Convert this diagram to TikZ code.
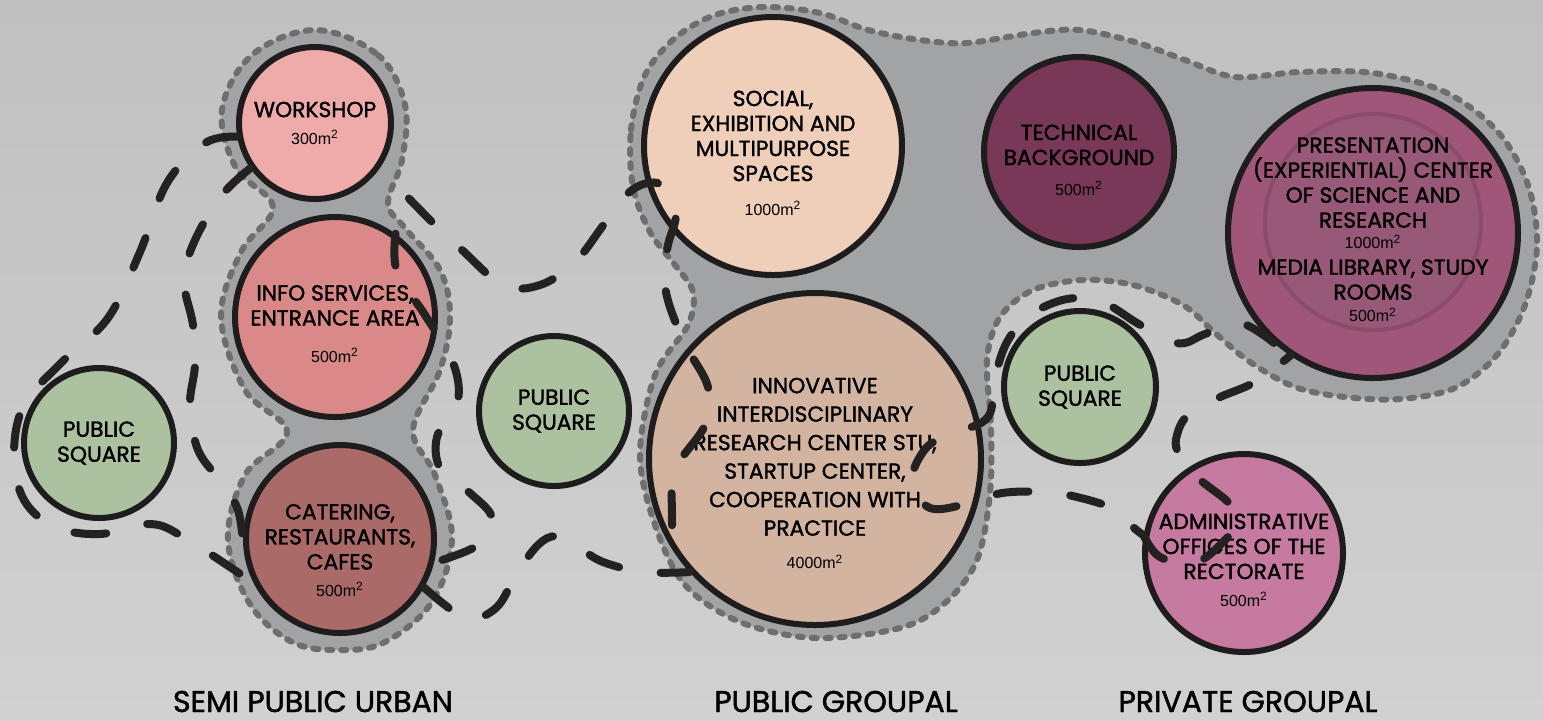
\documentclass[tikz,border=0pt]{standalone}
\usepackage{fontspec}
\setmainfont{Poppins}
\newfontfamily\roomfont{Poppins}[FakeBold=1.5]
\newfontfamily\sqmfont{Liberation Sans}

\definecolor{bgtop}{RGB}{192,192,192}
\definecolor{bgbot}{RGB}{209,209,209}
\definecolor{blobc}{RGB}{162,163,165}
\definecolor{blobline}{RGB}{110,110,110}
\definecolor{ringblack}{RGB}{30,28,28}
\definecolor{flowc}{RGB}{36,33,33}
\definecolor{wsc}{RGB}{239,170,170}
\definecolor{infoc}{RGB}{216,137,136}
\definecolor{catc}{RGB}{170,106,104}
\definecolor{squarec}{RGB}{172,193,159}
\definecolor{socc}{RGB}{239,207,185}
\definecolor{innc}{RGB}{211,180,160}
\definecolor{techc}{RGB}{122,56,88}
\definecolor{presc}{RGB}{160,86,121}
\definecolor{presin}{RGB}{152,88,119}
\definecolor{presring}{RGB}{138,76,106}
\definecolor{admc}{RGB}{199,122,160}

\newcommand{\sqm}[1]{{\sqmfont\fontsize{8}{9}\selectfont #1m\textsuperscript{2}}}
\newcommand{\lift}[1]{\rule{0pt}{#1}}

\tikzset{
	room/.style={circle, draw=ringblack, line width=3pt, align=center, inner sep=-12pt, text=black,
		font=\roomfont\fontsize{10.9}{12.5}\selectfont},
	blob/.style={fill=blobc, draw=blobline, line width=3pt, line cap=round, dash pattern=on 2.5pt off 4.5pt},
	flow/.style={draw=flowc, line width=4pt, line cap=round, dash pattern=on 16pt off 21pt},
	group/.style={anchor=base, inner sep=0pt, font=\roomfont\fontsize{15}{17}\selectfont}
}

\begin{document}
\begin{tikzpicture}[x=0.5pt, y=-0.5pt]

	\shade[top color=bgtop, bottom color=bgbot] (0,0) rectangle (1543,720);
	\useasboundingbox (0,0) rectangle (1543,720);

	\path[blob] plot[smooth cycle, tension=0.6] coordinates {(315,30) (378,55) (405,105) (402,160) (388,203) (405,228) (440,270) (450,317) (440,370) (413,430) (435,475) (452,539) (432,602) (385,642) (340,650) (292,642) (250,604) (228,540) (245,475) (287,432) (245,390) (221,317) (241,252) (273,207) (236,168) (222,110) (252,55)};

	\path[blob] plot[smooth cycle, tension=0.55] coordinates {(633,187) (631,130) (645,75) (675,38) (715,15) (765,7) (820,13) (868,30) (920,40) (967,43) (1033,33) (1080,30) (1135,42) (1185,60) (1235,77) (1300,72) (1373,73) (1445,92) (1498,132) (1528,185) (1537,245) (1525,305) (1497,355) (1455,388) (1400,399) (1345,397) (1295,387) (1250,362) (1215,333) (1183,305) (1133,285) (1083,280) (1033,290) (1000,317) (987,360) (991,427) (990,493) (977,560) (945,603) (900,628) (815,638) (740,622) (685,585) (655,525) (640,455) (655,375) (688,325) (693,292) (675,265) (650,232)};

	\node[room, fill=wsc, minimum size=76pt](ws) at (315,123) {WORKSHOP\\[1pt]\sqm{300}};
	\node[room, fill=infoc, minimum size=100pt](info) at (335,317) {\lift{14.6pt}INFO SERVICES,\\ENTRANCE AREA\\[6pt]\sqm{500}};
	\node[room, fill=catc, minimum size=94pt](cat) at (340,539) {\lift{19pt}CATERING,\\RESTAURANTS,\\CAFES\\[1pt]\sqm{500}};
	\node[room, fill=squarec, minimum size=75pt](psl) at (99,443) {PUBLIC\\SQUARE};
	\node[room, fill=squarec, minimum size=75pt](psm) at (554,411) {PUBLIC\\SQUARE};
	\node[room, fill=socc, minimum size=129pt](soc) at (773,146) {\lift{14.6pt}SOCIAL,\\EXHIBITION AND\\MULTIPURPOSE\\SPACES\\[4.5pt]\sqm{1000}};
	\node[room, fill=innc, minimum size=166pt, font=\roomfont\fontsize{10.9}{14.25}\selectfont](inn) at (815,459) {\lift{22pt}INNOVATIVE\\INTERDISCIPLINARY\\RESEARCH CENTER STU,\\STARTUP CENTER,\\COOPERATION WITH\\PRACTICE\\[2.25pt]\sqm{4000}};
	\node[room, fill=techc, minimum size=95pt](tech) at (1079,152) {\lift{15.6pt}TECHNICAL\\BACKGROUND\\[2.5pt]\sqm{500}};
	\node[room, fill=presc, minimum size=145pt,
		path picture={\draw[draw=presring, fill=presin, line width=2pt] ([yshift=5.5pt]path picture bounding box.center) circle[radius=54pt];}](pres) at (1373,233)
		{PRESENTATION\\(EXPERIENTIAL) CENTER\\OF SCIENCE AND\\RESEARCH\\[-2pt]\sqm{1000}\\[0.5pt]MEDIA LIBRARY, STUDY\\ROOMS\\[-1.5pt]\sqm{500}\\[-9pt]\mbox{}};
	\node[room, fill=squarec, minimum size=76pt](psr) at (1080,387) {PUBLIC\\SQUARE};
	\node[room, fill=admc, minimum size=99pt](adm) at (1244,553) {\lift{14.6pt}ADMINISTRATIVE\\OFFICES OF THE\\RECTORATE\\[1pt]\sqm{500}};

	\draw[flow] plot[smooth, tension=0.6] coordinates {(ws.190) (205,143) (167,183) (140,252) (108,318) (62,362) (24,405) (14,455) (24,500) (55,527) (100,534) (150,524) (185,538) (cat.207)};
	\draw[flow] plot[smooth, tension=0.6] coordinates {(ws.215) (222,195) (195,240) (184,280) (193,325) (195,365) (190,405) (198,450) (222,483) (238,510) (cat.183)};
	\draw[flow] plot[smooth, tension=0.6] coordinates {(info.54) (397,272) (425,315) (452,360) (458,400) (437,437) (441,470) (470,493) (492,518) (478,545) (cat.-14)};
	\draw[flow, dash phase=16pt] plot[smooth, tension=0.6] coordinates {(ws.-35) (433,223) (462,250) (503,285) (540,285) (575,262) (605,223) (632,190) (660,184) (676,212) (667,250) (666,292) (684,342) (708,387) (705,425) (675,470) (672,515) (inn.213)};
	\draw[flow] plot[smooth, tension=0.6] coordinates {(cat.-30) (445,605) (468,620) (497,607) (517,573) (538,545) (556,536) (575,545) (603,562) (645,572) (inn.222)};
	\draw[flow] plot[smooth, tension=0.6] coordinates {(pres.228) (1240,323) (1205,334) (1185,343) (1167,340) (1137,323) (1102,302) (1067,299) (1030,315) (1007,342) (995,378) (988,417) (955,433) (927,447) (912,480) (930,508) (970,503) (1002,493) (1043,492) (1077,497) (1117,510) (1133,527) (adm.170)};
	\draw[flow] plot[smooth, tension=0.6] coordinates {(adm.170) (1160,557) (1195,563) (1225,540) (1238,520) (1228,502) (1197,477) (1178,452) (1177,435) (1188,415) (1218,398) (1255,382) (pres.236)};

	\node[group](semi) at (313,712) {SEMI PUBLIC URBAN};
	\node[group](pubg) at (836,712) {PUBLIC GROUPAL};
	\node[group](privg) at (1248,712) {PRIVATE GROUPAL};

\end{tikzpicture}
\end{document}
